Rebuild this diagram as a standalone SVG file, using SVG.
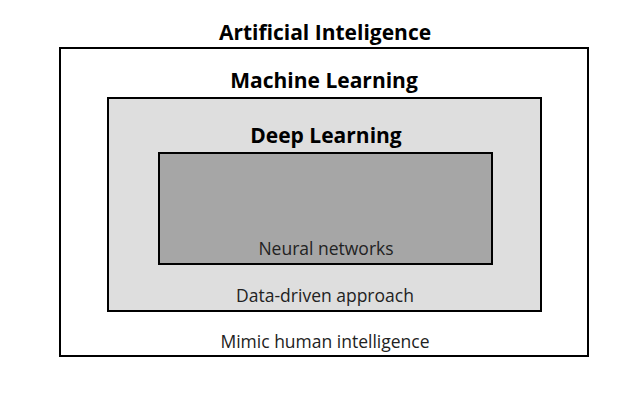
<svg xmlns="http://www.w3.org/2000/svg" width="632" height="399" viewBox="0 0 632 399">
<style>
.box{stroke:#000;stroke-width:2}
.title{font-family:"Open Sans","Noto Sans",sans-serif;font-weight:bold;fill:#000;text-anchor:middle;font-size:21px}
.label{font-family:"Open Sans","Noto Sans",sans-serif;fill:#222;text-anchor:middle;font-size:17.5px}
</style>
<rect width="632" height="399" fill="#fff"/>
<g id="ai">
<text class="title" x="325" y="40">Artificial Inteligence</text>
<rect class="box" x="60" y="48" width="528" height="308" fill="#fff"/>
<text class="label" x="325" y="348">Mimic human intelligence</text>
</g>
<g id="ml">
<text class="title" x="324" y="88">Machine Learning</text>
<rect class="box" x="108" y="98" width="433" height="213" fill="#dedede"/>
<text class="label" x="325" y="302">Data-driven approach</text>
</g>
<g id="dl">
<text class="title" x="326" y="143">Deep Learning</text>
<rect class="box" x="159" y="153" width="333" height="111" fill="#a6a6a6"/>
<text class="label" x="326" y="255">Neural networks</text>
</g>
<g id="connectors"/>
</svg>
